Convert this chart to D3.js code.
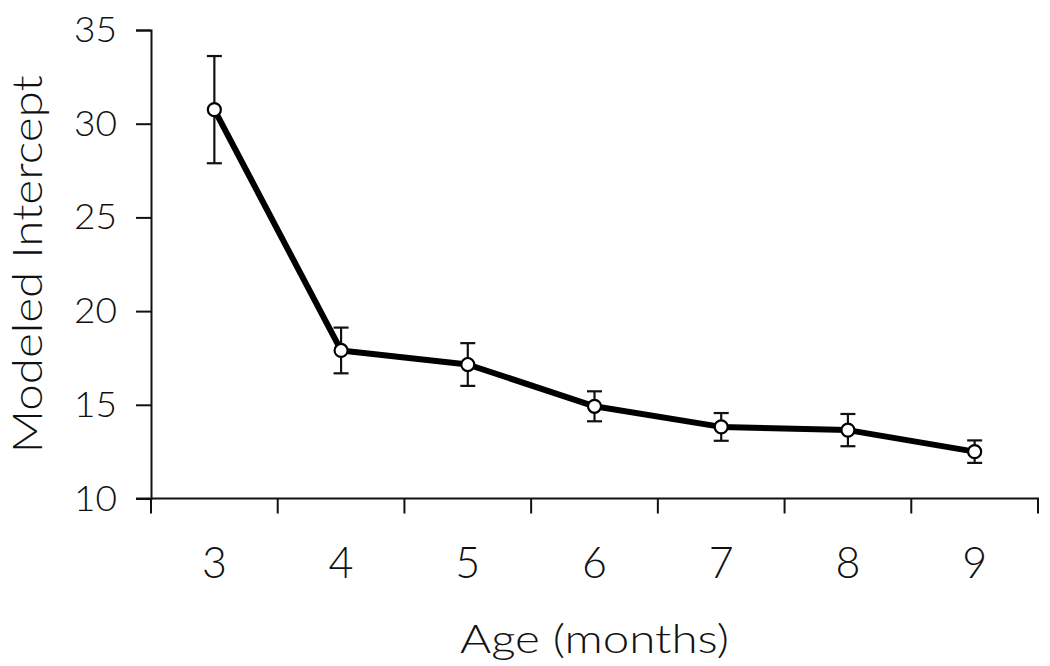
<!DOCTYPE html>
<html>
<head>
<meta charset="utf-8">
<script src="https://cdn.jsdelivr.net/npm/d3@7"></script>
<style>
  html, body { margin: 0; padding: 0; background: #fff; }
  svg text { font-family: "Lato", "DejaVu Sans", sans-serif; font-weight: 300; fill: #111; }
</style>
</head>
<body>
<svg id="chart" width="1050" height="666"></svg>
<script>
const ages = ["3", "4", "5", "6", "7", "8", "9"];
const intercepts = [30.75, 17.9, 17.15, 14.92, 13.82, 13.65, 12.5];
const errors = [2.86, 1.22, 1.14, 0.8, 0.74, 0.86, 0.6];
const yTicks = [10, 15, 20, 25, 30, 35];
const xTitle = "Age (months)";
const yTitle = "Modeled Intercept";

const svg = d3.select("#chart");
const mLeft = 151, mRight = 1038, mTop = 30, mBottom = 498.5;

const x = d3.scaleBand().domain(ages).range([mLeft, mRight]);
const y = d3.scaleLinear().domain([10, 35]).range([mBottom, mTop]);

// Y axis
const yAxis = svg.append("g").attr("transform", `translate(${mLeft},0)`)
  .call(d3.axisLeft(y).tickValues(yTicks).tickSize(15).tickPadding(19));
yAxis.attr("font-family", null).attr("font-size", null);
yAxis.select(".domain").attr("stroke", "#111").attr("stroke-width", 2);
yAxis.selectAll(".tick line").attr("stroke", "#111").attr("stroke-width", 2);
yAxis.selectAll(".tick text").attr("font-size", 36).attr("textLength", 43).attr("lengthAdjust", "spacingAndGlyphs");

// X axis: ticks at band boundaries
const xAxisG = svg.append("g").attr("transform", `translate(0,${mBottom})`);
xAxisG.append("line").attr("x1", mLeft - 15).attr("x2", mRight + 1)
  .attr("stroke", "#111").attr("stroke-width", 2);
const bounds = ages.map(a => x(a)).concat([x(ages[ages.length - 1]) + x.bandwidth()]);
xAxisG.selectAll("line.tk").data(bounds).join("line").attr("class", "tk")
  .attr("x1", d => d).attr("x2", d => d).attr("y1", 0).attr("y2", 15)
  .attr("stroke", "#111").attr("stroke-width", 2);
xAxisG.selectAll("text.lbl").data(ages).join("text").attr("class", "lbl")
  .attr("x", d => x(d) + x.bandwidth() / 2).attr("y", 79.5)
  .attr("text-anchor", "middle").attr("font-size", 43).text(d => d);

// Titles
svg.append("text").attr("x", (mLeft + mRight) / 2).attr("y", 653)
  .attr("text-anchor", "middle").attr("font-size", 39)
  .attr("textLength", 269).attr("lengthAdjust", "spacingAndGlyphs").text(xTitle);
svg.append("text").attr("transform", `translate(42,${(mTop + mBottom) / 2}) rotate(-90)`)
  .attr("text-anchor", "middle").attr("font-size", 41)
  .attr("textLength", 378).attr("lengthAdjust", "spacingAndGlyphs").text(yTitle);

const cx = (d, i) => x(ages[i]) + x.bandwidth() / 2;

// Error bars
const eb = svg.append("g").attr("stroke", "#111").attr("stroke-width", 2.2);
intercepts.forEach((v, i) => {
  const xc = cx(v, i);
  eb.append("line").attr("x1", xc).attr("x2", xc).attr("y1", y(v + errors[i])).attr("y2", y(v - errors[i]));
  eb.append("line").attr("x1", xc - 7.5).attr("x2", xc + 7.5).attr("y1", y(v + errors[i])).attr("y2", y(v + errors[i]));
  eb.append("line").attr("x1", xc - 7.5).attr("x2", xc + 7.5).attr("y1", y(v - errors[i])).attr("y2", y(v - errors[i]));
});

// Line
svg.append("path").datum(intercepts)
  .attr("d", d3.line().x((d, i) => cx(d, i)).y(d => y(d)))
  .attr("fill", "none").attr("stroke", "#000").attr("stroke-width", 6).attr("stroke-linejoin", "round");

// Points
svg.selectAll("circle.pt").data(intercepts).join("circle").attr("class", "pt")
  .attr("cx", (d, i) => cx(d, i)).attr("cy", d => y(d)).attr("r", 6.5)
  .attr("fill", "#fff").attr("stroke", "#000").attr("stroke-width", 2.2);
</script>
</body>
</html>
